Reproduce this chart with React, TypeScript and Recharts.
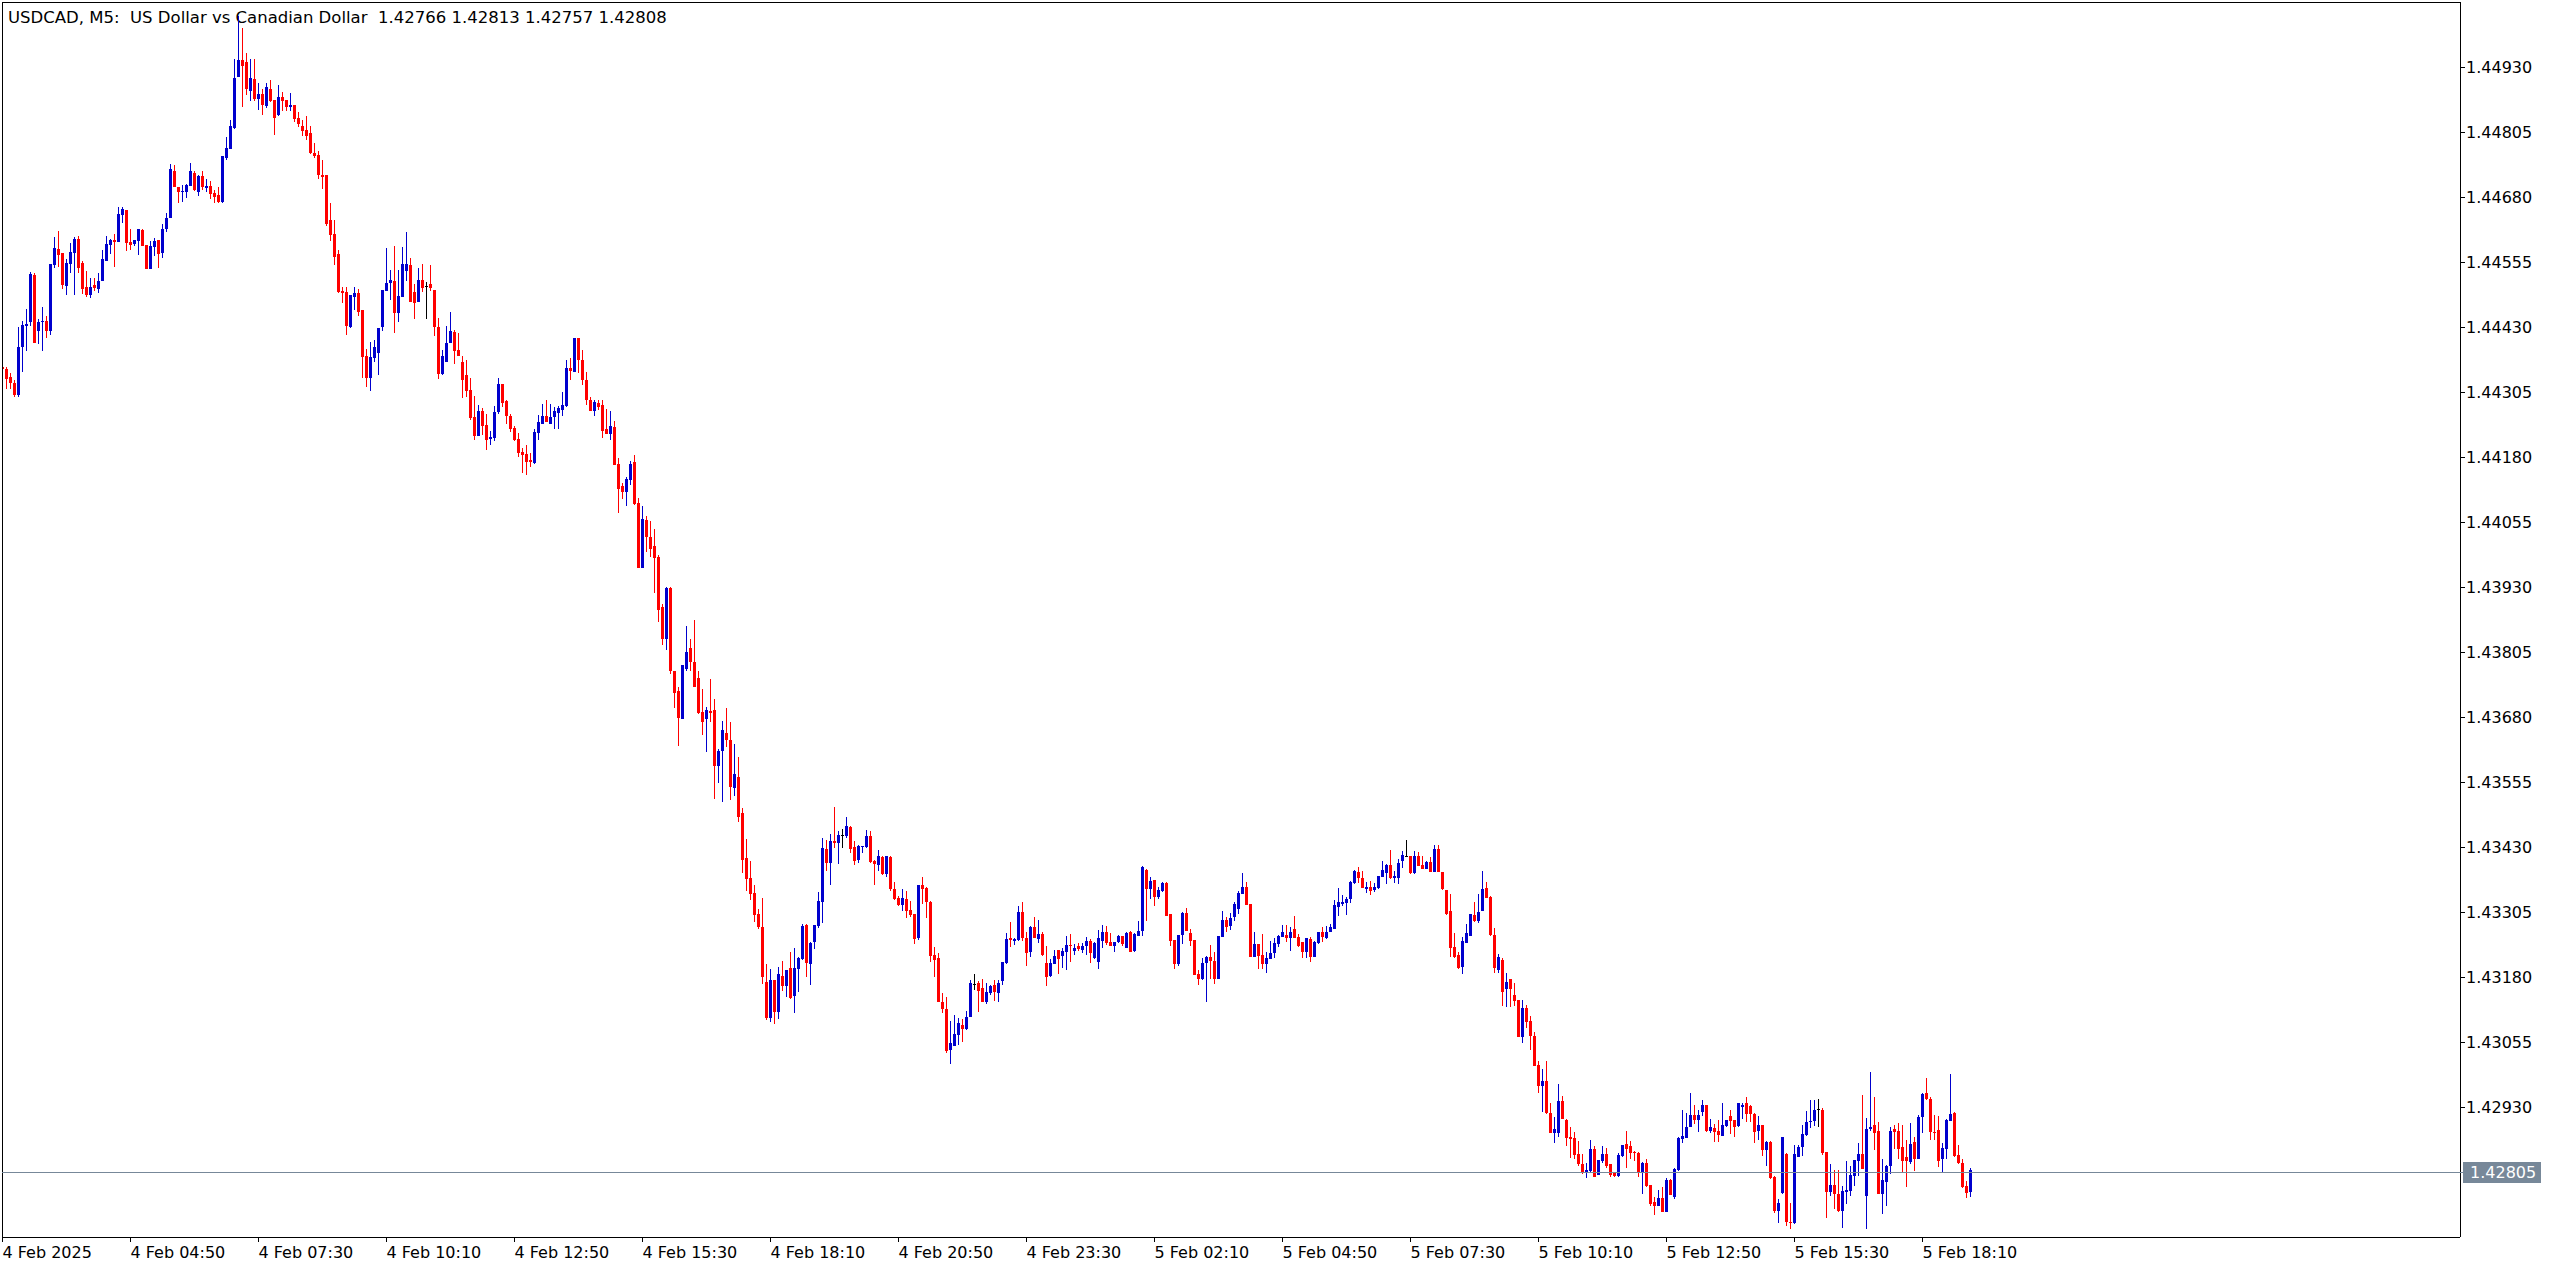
import { Bar, ComposedChart, ReferenceLine, XAxis, YAxis } from "recharts";

// USDCAD M5, 4 Feb 02:10 .. 5 Feb 19:10 (one entry per 5-minute bar).
const chartTitle =
  "USDCAD, M5:  US Dollar vs Canadian Dollar  1.42766 1.42813 1.42757 1.42808";

const firstBar = -1; // the left-most, half-hidden bar

const timeTickBars = [-1, 31, 63, 95, 127, 159, 191, 223, 255, 287, 319, 351, 383, 415, 447, 479];
const timeTickLabels = [
  "4 Feb 2025", "4 Feb 04:50", "4 Feb 07:30", "4 Feb 10:10", "4 Feb 12:50", "4 Feb 15:30",
  "4 Feb 18:10", "4 Feb 20:50", "4 Feb 23:30", "5 Feb 02:10", "5 Feb 04:50", "5 Feb 07:30",
  "5 Feb 10:10", "5 Feb 12:50", "5 Feb 15:30", "5 Feb 18:10",
];

const priceTicks = [
  1.42805, 1.4293, 1.43055, 1.4318, 1.43305, 1.4343, 1.43555, 1.4368, 1.43805, 1.4393,
  1.44055, 1.4418, 1.44305, 1.4443, 1.44555, 1.4468, 1.44805, 1.4493,
];
const bidPrice = 1.42805;

const opens = [
  1.44353, 1.44349, 1.44334, 1.44322, 1.44299, 1.44392, 1.44432, 1.4444, 1.4453, 1.44422,
  1.4444, 1.44442, 1.44422, 1.44549, 1.4458, 1.44573, 1.44509, 1.44551, 1.44573, 1.44599,
  1.44553, 1.44507, 1.44492, 1.44511, 1.44503, 1.44519, 1.44557, 1.44588, 1.44598, 1.44594,
  1.44646, 1.44655, 1.44594, 1.4459, 1.44596, 1.44617, 1.44588, 1.44542, 1.44584, 1.44598,
  1.44573, 1.44619, 1.4464, 1.4473, 1.44699, 1.4469, 1.4469, 1.44701, 1.44726, 1.4469,
  1.44721, 1.44697, 1.44701, 1.44688, 1.44684, 1.44671, 1.44755, 1.44773, 1.44813, 1.44911,
  1.44944, 1.4494, 1.44884, 1.44907, 1.44869, 1.44878, 1.44855, 1.44888, 1.44867, 1.44838,
  1.44873, 1.44867, 1.44853, 1.44857, 1.44832, 1.44817, 1.44809, 1.44803, 1.44765, 1.44761,
  1.44723, 1.44723, 1.44636, 1.44609, 1.44571, 1.44499, 1.44498, 1.4443, 1.44488, 1.44496,
  1.44463, 1.44374, 1.44332, 1.44371, 1.4438, 1.4443, 1.44499, 1.44515, 1.44519, 1.44457,
  1.44488, 1.44538, 1.44549, 1.44498, 1.44478, 1.44521, 1.44509, 1.44513, 1.44501, 1.4443,
  1.4434, 1.44363, 1.44399, 1.44421, 1.44386, 1.44363, 1.44338, 1.44309, 1.44257, 1.44221,
  1.44269, 1.44242, 1.44215, 1.44217, 1.44267, 1.4432, 1.44288, 1.44259, 1.44236, 1.44215,
  1.4419, 1.44186, 1.44174, 1.44169, 1.44226, 1.44244, 1.44259, 1.44244, 1.44257, 1.44265,
  1.44271, 1.44278, 1.44351, 1.44344, 1.44409, 1.44367, 1.44328, 1.4429, 1.44269, 1.44284,
  1.4428, 1.44234, 1.44224, 1.44238, 1.44167, 1.44124, 1.44113, 1.44136, 1.4417, 1.44092,
  1.43967, 1.44059, 1.44026, 1.44009, 1.43988, 1.43892, 1.4383, 1.43928, 1.43769, 1.4373,
  1.43676, 1.43772, 1.43813, 1.43786, 1.43755, 1.4369, 1.43676, 1.43692, 1.43694, 1.43586,
  1.43615, 1.43649, 1.43636, 1.43544, 1.43565, 1.43495, 1.43409, 1.4337, 1.43342, 1.43301,
  1.43276, 1.4317, 1.43101, 1.43174, 1.43113, 1.43182, 1.43163, 1.43197, 1.43143, 1.43195,
  1.43215, 1.4328, 1.43205, 1.43247, 1.43278, 1.43324, 1.43426, 1.43399, 1.43442, 1.43438,
  1.43453, 1.43451, 1.43468, 1.4343, 1.43405, 1.4343, 1.4343, 1.43451, 1.43403, 1.43395,
  1.43411, 1.43378, 1.43411, 1.43349, 1.43332, 1.43319, 1.4333, 1.43309, 1.43301, 1.43255,
  1.43357, 1.43351, 1.43324, 1.43222, 1.43217, 1.43132, 1.43119, 1.4304, 1.43048, 1.43069,
  1.43088, 1.4308, 1.43103, 1.43167, 1.43168, 1.43159, 1.43132, 1.43149, 1.43165, 1.43149,
  1.43172, 1.43207, 1.43255, 1.43249, 1.43251, 1.43305, 1.43255, 1.43228, 1.43276, 1.43253,
  1.43263, 1.43207, 1.43182, 1.43205, 1.43232, 1.4322, 1.43228, 1.43242, 1.4323, 1.4324,
  1.43232, 1.4324, 1.43249, 1.43217, 1.43209, 1.43249, 1.43267, 1.43247, 1.4324, 1.43247,
  1.43259, 1.43236, 1.43267, 1.4323, 1.43259, 1.43268, 1.43386, 1.43349, 1.43367, 1.43334,
  1.43345, 1.43361, 1.43301, 1.43251, 1.43205, 1.43261, 1.43303, 1.43265, 1.43251, 1.43186,
  1.43176, 1.43207, 1.43218, 1.43211, 1.43176, 1.43257, 1.4329, 1.43278, 1.43296, 1.43311,
  1.4334, 1.43353, 1.4332, 1.43218, 1.43244, 1.43222, 1.43205, 1.43215, 1.43226, 1.43244,
  1.43257, 1.43261, 1.43255, 1.43272, 1.43257, 1.43247, 1.43228, 1.43253, 1.43218, 1.43245,
  1.43267, 1.43255, 1.43267, 1.43272, 1.43315, 1.4332, 1.43322, 1.4333, 1.43361, 1.43382,
  1.4337, 1.43349, 1.43353, 1.43347, 1.43351, 1.43372, 1.4338, 1.43395, 1.4337, 1.4337,
  1.43403, 1.43413, 1.43413, 1.4338, 1.43413, 1.43395, 1.43388, 1.43401, 1.43382, 1.43426,
  1.43382, 1.43347, 1.43307, 1.43238, 1.43222, 1.43199, 1.43245, 1.43259, 1.43299, 1.43288,
  1.43307, 1.43351, 1.43334, 1.43261, 1.43193, 1.43213, 1.43157, 1.43176, 1.43145, 1.43136,
  1.43065, 1.4312, 1.43096, 1.43067, 1.43011, 1.4297, 1.4298, 1.42919, 1.4288, 1.4288,
  1.42942, 1.42905, 1.42872, 1.4287, 1.4284, 1.42821, 1.42803, 1.42807, 1.42849, 1.42799,
  1.42826, 1.4284, 1.42821, 1.42803, 1.42797, 1.42836, 1.42859, 1.42855, 1.42844, 1.42842,
  1.42805, 1.42823, 1.4278, 1.42747, 1.4274, 1.42755, 1.42728, 1.4279, 1.42757, 1.42809,
  1.42868, 1.4287, 1.42892, 1.42915, 1.42905, 1.4292, 1.42934, 1.42884, 1.4289, 1.42884,
  1.42874, 1.42893, 1.42913, 1.42905, 1.42893, 1.4293, 1.42938, 1.42932, 1.42917, 1.42884,
  1.42895, 1.42847, 1.42863, 1.42795, 1.4273, 1.42765, 1.4284, 1.42709, 1.42707, 1.42834,
  1.42853, 1.42876, 1.42901, 1.42903, 1.42926, 1.42924, 1.42844, 1.42767, 1.4278, 1.42763,
  1.4273, 1.42767, 1.42768, 1.42797, 1.42826, 1.4284, 1.42759, 1.42888, 1.42895, 1.42884,
  1.42763, 1.42786, 1.42817, 1.42888, 1.42884, 1.42853, 1.42834, 1.42824, 1.42863, 1.4283,
  1.42911, 1.42957, 1.42945, 1.42882, 1.42886, 1.4283, 1.42849, 1.42903, 1.42919, 1.42838,
  1.42823, 1.42778, 1.42766,
];

const highs = [
  1.44357, 1.44353, 1.44342, 1.44328, 1.4443, 1.44442, 1.44465, 1.44536, 1.44534, 1.44446,
  1.44469, 1.44451, 1.44551, 1.44603, 1.44615, 1.44573, 1.44561, 1.44592, 1.44603, 1.44605,
  1.44557, 1.44538, 1.44524, 1.44524, 1.44534, 1.44578, 1.44605, 1.44599, 1.44609, 1.44661,
  1.44661, 1.44655, 1.44619, 1.44598, 1.44619, 1.44619, 1.44588, 1.44596, 1.44601, 1.44598,
  1.44628, 1.44649, 1.44744, 1.44742, 1.44699, 1.44703, 1.44705, 1.44746, 1.4473, 1.44723,
  1.4473, 1.44715, 1.44711, 1.44694, 1.44699, 1.44759, 1.44796, 1.44828, 1.44946, 1.45028,
  1.45005, 1.44957, 1.44946, 1.44946, 1.44899, 1.44888, 1.44899, 1.44905, 1.44867, 1.44896,
  1.44882, 1.44867, 1.4488, 1.44857, 1.44844, 1.44828, 1.44836, 1.44817, 1.44784, 1.44769,
  1.44751, 1.44723, 1.44669, 1.44636, 1.44578, 1.44507, 1.44507, 1.44492, 1.44507, 1.44503,
  1.44463, 1.44388, 1.44401, 1.44405, 1.44428, 1.44501, 1.44582, 1.4454, 1.44586, 1.4454,
  1.44584, 1.44613, 1.44563, 1.44513, 1.44544, 1.44551, 1.44517, 1.44549, 1.44501, 1.44448,
  1.44386, 1.44432, 1.44459, 1.44424, 1.44419, 1.44374, 1.44367, 1.44332, 1.44298, 1.4428,
  1.44274, 1.44263, 1.4423, 1.44278, 1.44332, 1.4432, 1.4429, 1.44263, 1.4424, 1.44226,
  1.44197, 1.44203, 1.44188, 1.44234, 1.44261, 1.44282, 1.4429, 1.44282, 1.44276, 1.44278,
  1.44305, 1.44367, 1.44371, 1.44409, 1.44409, 1.44386, 1.44344, 1.44296, 1.4429, 1.4429,
  1.4429, 1.44273, 1.44269, 1.44249, 1.44178, 1.4413, 1.44142, 1.44172, 1.44184, 1.44101,
  1.44086, 1.44067, 1.44057, 1.44042, 1.43992, 1.43898, 1.4393, 1.4393, 1.43769, 1.43738,
  1.4378, 1.43855, 1.4383, 1.43867, 1.43769, 1.43734, 1.43699, 1.43753, 1.43715, 1.43619,
  1.43672, 1.43697, 1.4367, 1.43628, 1.43603, 1.43505, 1.43446, 1.43403, 1.43357, 1.43311,
  1.43332, 1.43205, 1.43195, 1.43174, 1.43199, 1.43211, 1.43194, 1.43228, 1.43236, 1.43218,
  1.43282, 1.43282, 1.43247, 1.4328, 1.43344, 1.43447, 1.43444, 1.43455, 1.43507, 1.43461,
  1.43465, 1.43488, 1.4347, 1.43442, 1.43434, 1.43432, 1.43463, 1.43461, 1.43405, 1.43424,
  1.43413, 1.43413, 1.43413, 1.43363, 1.43336, 1.43349, 1.43345, 1.43326, 1.43301, 1.43357,
  1.43372, 1.43353, 1.43326, 1.43238, 1.43226, 1.43149, 1.43142, 1.43096, 1.43107, 1.43101,
  1.43099, 1.43115, 1.43174, 1.43186, 1.43172, 1.43176, 1.43168, 1.43165, 1.43174, 1.43174,
  1.43209, 1.43265, 1.43286, 1.43255, 1.43317, 1.43324, 1.43267, 1.43278, 1.43296, 1.4329,
  1.43267, 1.4324, 1.43215, 1.43232, 1.43232, 1.43236, 1.43259, 1.43263, 1.43244, 1.43245,
  1.43245, 1.43257, 1.43253, 1.43247, 1.4327, 1.4328, 1.43278, 1.43265, 1.43247, 1.43261,
  1.43259, 1.43267, 1.43268, 1.43265, 1.43288, 1.43393, 1.43388, 1.43372, 1.43367, 1.43353,
  1.43363, 1.43363, 1.43301, 1.43251, 1.43261, 1.43305, 1.43313, 1.43272, 1.43251, 1.43194,
  1.43217, 1.4322, 1.43242, 1.43228, 1.43259, 1.43307, 1.43296, 1.43303, 1.43324, 1.43345,
  1.4338, 1.43363, 1.4332, 1.43267, 1.43244, 1.43263, 1.43228, 1.43249, 1.43255, 1.43261,
  1.4328, 1.4328, 1.43276, 1.43297, 1.43263, 1.43247, 1.43255, 1.43257, 1.43249, 1.43267,
  1.43276, 1.43278, 1.43282, 1.43328, 1.43351, 1.43338, 1.43334, 1.43365, 1.43386, 1.43392,
  1.43384, 1.43363, 1.43365, 1.43361, 1.43374, 1.43403, 1.43397, 1.43424, 1.43384, 1.43407,
  1.43422, 1.43444, 1.43413, 1.43422, 1.4342, 1.43413, 1.43403, 1.43411, 1.43434, 1.43434,
  1.43382, 1.43347, 1.4334, 1.43265, 1.43228, 1.43257, 1.43282, 1.43301, 1.43324, 1.4334,
  1.43384, 1.43363, 1.43336, 1.43274, 1.43224, 1.43217, 1.43188, 1.43176, 1.43168, 1.43136,
  1.43136, 1.43126, 1.43105, 1.43074, 1.43018, 1.43003, 1.43018, 1.42938, 1.42911, 1.42974,
  1.42951, 1.42907, 1.42892, 1.42882, 1.42865, 1.4284, 1.42823, 1.42867, 1.42855, 1.42828,
  1.42855, 1.42851, 1.42821, 1.42805, 1.42842, 1.42857, 1.42884, 1.42865, 1.42845, 1.42844,
  1.42824, 1.4283, 1.4278, 1.42757, 1.4277, 1.42776, 1.42793, 1.42792, 1.42813, 1.42872,
  1.42924, 1.42919, 1.42957, 1.42934, 1.42924, 1.42944, 1.42934, 1.42907, 1.42898, 1.42905,
  1.42938, 1.42905, 1.42924, 1.42905, 1.42938, 1.42938, 1.42949, 1.42934, 1.42919, 1.42913,
  1.42895, 1.42865, 1.42865, 1.42797, 1.42753, 1.42872, 1.42842, 1.42745, 1.42857, 1.42857,
  1.42895, 1.42922, 1.42944, 1.42944, 1.42945, 1.42928, 1.42844, 1.42821, 1.42809, 1.42809,
  1.42778, 1.42826, 1.42817, 1.42828, 1.42861, 1.42953, 1.42909, 1.42997, 1.42949, 1.42901,
  1.4283, 1.42818, 1.42892, 1.42895, 1.42899, 1.42895, 1.42867, 1.42899, 1.42872, 1.42915,
  1.42957, 1.42986, 1.42949, 1.42915, 1.42913, 1.42861, 1.42907, 1.42994, 1.4292, 1.42857,
  1.4283, 1.42788, 1.42813,
];

const lows = [
  1.44346, 1.44311, 1.44311, 1.44296, 1.44296, 1.44344, 1.44384, 1.44432, 1.44399, 1.44397,
  1.44384, 1.44409, 1.44415, 1.44544, 1.44546, 1.44503, 1.44492, 1.44534, 1.44492, 1.44534,
  1.44494, 1.44488, 1.44486, 1.44499, 1.44496, 1.44519, 1.44557, 1.44571, 1.44546, 1.44594,
  1.4463, 1.44576, 1.44578, 1.44586, 1.44569, 1.44586, 1.44542, 1.44542, 1.44567, 1.44544,
  1.44563, 1.44613, 1.4464, 1.44699, 1.44669, 1.44671, 1.44678, 1.44701, 1.44692, 1.44682,
  1.44694, 1.4469, 1.44676, 1.44669, 1.44669, 1.44669, 1.44751, 1.44773, 1.44811, 1.44911,
  1.44853, 1.44876, 1.44865, 1.44865, 1.44848, 1.44838, 1.44851, 1.44863, 1.44799, 1.44836,
  1.44846, 1.44846, 1.44846, 1.44824, 1.44815, 1.44798, 1.4479, 1.44763, 1.44755, 1.44715,
  1.44696, 1.44624, 1.44596, 1.44549, 1.44496, 1.44476, 1.44415, 1.44428, 1.44463, 1.44451,
  1.44332, 1.44315, 1.44307, 1.44363, 1.44338, 1.44422, 1.44499, 1.44482, 1.44419, 1.4444,
  1.44488, 1.44519, 1.44478, 1.44446, 1.44478, 1.44498, 1.44446, 1.44499, 1.44413, 1.4433,
  1.44338, 1.44363, 1.44399, 1.44359, 1.44374, 1.44294, 1.44296, 1.44251, 1.44213, 1.44221,
  1.44223, 1.44194, 1.44203, 1.44211, 1.44263, 1.44276, 1.44244, 1.44228, 1.44211, 1.4418,
  1.44149, 1.44145, 1.44161, 1.44167, 1.44213, 1.44244, 1.44247, 1.44244, 1.44234, 1.44234,
  1.44259, 1.44276, 1.44328, 1.44344, 1.44342, 1.44319, 1.4428, 1.44269, 1.44259, 1.44271,
  1.44217, 1.44224, 1.44213, 1.44165, 1.44072, 1.44099, 1.44086, 1.44126, 1.44088, 1.43967,
  1.43967, 1.43997, 1.43988, 1.43919, 1.43863, 1.43819, 1.43809, 1.43763, 1.43697, 1.43624,
  1.43676, 1.43769, 1.43769, 1.43738, 1.43686, 1.43646, 1.43613, 1.4367, 1.43522, 1.43553,
  1.43517, 1.43622, 1.4352, 1.43528, 1.43478, 1.4338, 1.43345, 1.43328, 1.43286, 1.43272,
  1.43167, 1.43097, 1.43093, 1.4309, 1.43099, 1.43153, 1.43142, 1.43138, 1.43111, 1.43151,
  1.43213, 1.4318, 1.43165, 1.43234, 1.43274, 1.43284, 1.43384, 1.43357, 1.43428, 1.43397,
  1.43428, 1.43447, 1.43418, 1.43395, 1.43399, 1.43418, 1.43428, 1.43399, 1.43357, 1.43384,
  1.43376, 1.43372, 1.43345, 1.43328, 1.43317, 1.43307, 1.43294, 1.43296, 1.43243, 1.43251,
  1.4332, 1.43294, 1.43209, 1.4318, 1.43132, 1.43111, 1.43034, 1.43013, 1.43048, 1.43049,
  1.43055, 1.43078, 1.43103, 1.43155, 1.43113, 1.43132, 1.43128, 1.43145, 1.43134, 1.43132,
  1.43165, 1.43205, 1.43238, 1.43242, 1.43249, 1.43249, 1.43201, 1.43218, 1.43255, 1.43245,
  1.4322, 1.43163, 1.4318, 1.43205, 1.43186, 1.43197, 1.43194, 1.43209, 1.43222, 1.4323,
  1.43226, 1.43222, 1.43207, 1.43215, 1.43195, 1.43236, 1.43242, 1.4324, 1.43228, 1.43245,
  1.4324, 1.43236, 1.43228, 1.43228, 1.43259, 1.43259, 1.43288, 1.4333, 1.43317, 1.4333,
  1.43344, 1.43297, 1.4324, 1.43195, 1.43201, 1.43244, 1.43268, 1.4324, 1.43184, 1.43165,
  1.43174, 1.43132, 1.43176, 1.43167, 1.43176, 1.43257, 1.43267, 1.4327, 1.43288, 1.43301,
  1.4334, 1.43319, 1.43218, 1.43218, 1.43195, 1.43195, 1.43188, 1.43215, 1.43217, 1.43238,
  1.43257, 1.43247, 1.4323, 1.43255, 1.43238, 1.43217, 1.43217, 1.43209, 1.43218, 1.43244,
  1.43247, 1.43253, 1.43267, 1.43272, 1.43297, 1.43317, 1.43299, 1.43322, 1.43359, 1.43361,
  1.43351, 1.43342, 1.43338, 1.43344, 1.43349, 1.43372, 1.43359, 1.43369, 1.43361, 1.43359,
  1.4339, 1.43413, 1.43378, 1.43378, 1.43393, 1.43388, 1.43388, 1.43382, 1.43382, 1.43382,
  1.43347, 1.43299, 1.43218, 1.43217, 1.43195, 1.43186, 1.43245, 1.43259, 1.43286, 1.43284,
  1.43307, 1.43332, 1.43259, 1.43188, 1.43188, 1.43124, 1.43122, 1.43122, 1.43124, 1.43065,
  1.43053, 1.43082, 1.4304, 1.43009, 1.42957, 1.4292, 1.42917, 1.4288, 1.42861, 1.42872,
  1.42907, 1.42855, 1.42832, 1.4283, 1.42817, 1.42801, 1.42793, 1.42803, 1.42795, 1.42799,
  1.42823, 1.42813, 1.42795, 1.42795, 1.42795, 1.42834, 1.42813, 1.4283, 1.42826, 1.42795,
  1.42763, 1.42776, 1.4274, 1.42722, 1.4274, 1.42728, 1.42728, 1.42761, 1.42753, 1.42807,
  1.42861, 1.4287, 1.42892, 1.42898, 1.42882, 1.42913, 1.42882, 1.4288, 1.42863, 1.42863,
  1.42874, 1.42892, 1.42878, 1.42872, 1.42892, 1.42907, 1.42901, 1.42901, 1.42861, 1.42867,
  1.42836, 1.42817, 1.42792, 1.42726, 1.42707, 1.42763, 1.42701, 1.42695, 1.42705, 1.42834,
  1.42836, 1.42874, 1.4289, 1.42893, 1.42892, 1.42838, 1.42717, 1.42759, 1.42734, 1.42728,
  1.42697, 1.42743, 1.42759, 1.42778, 1.42797, 1.42811, 1.42695, 1.42884, 1.42847, 1.42763,
  1.42724, 1.4274, 1.42801, 1.42849, 1.4283, 1.42805, 1.42776, 1.42821, 1.42807, 1.4283,
  1.4288, 1.42944, 1.42867, 1.42867, 1.42815, 1.42803, 1.4283, 1.42903, 1.42834, 1.42821,
  1.42774, 1.42755, 1.42757,
];

const closes = [
  1.44349, 1.4433, 1.44322, 1.44299, 1.44392, 1.44434, 1.44436, 1.44532, 1.44399, 1.4444,
  1.44442, 1.44422, 1.44551, 1.44582, 1.44569, 1.44511, 1.44553, 1.44574, 1.44599, 1.44544,
  1.44503, 1.44492, 1.44507, 1.44505, 1.44519, 1.44561, 1.4459, 1.44598, 1.44594, 1.44648,
  1.44657, 1.44592, 1.44588, 1.44598, 1.44619, 1.44586, 1.44542, 1.44586, 1.44596, 1.44571,
  1.44619, 1.4464, 1.44734, 1.44699, 1.4469, 1.44692, 1.44703, 1.4473, 1.44694, 1.44721,
  1.44699, 1.44701, 1.44686, 1.4468, 1.44671, 1.44759, 1.44774, 1.44817, 1.44909, 1.44944,
  1.44932, 1.44888, 1.44909, 1.44869, 1.44878, 1.44857, 1.44892, 1.44865, 1.44832, 1.44873,
  1.44865, 1.44853, 1.44857, 1.4483, 1.44821, 1.44807, 1.44798, 1.44765, 1.44759, 1.44723,
  1.44719, 1.44628, 1.44607, 1.44565, 1.44498, 1.44496, 1.44432, 1.44492, 1.44496, 1.44459,
  1.44373, 1.44332, 1.44373, 1.44392, 1.44428, 1.44501, 1.44515, 1.44521, 1.44457, 1.4449,
  1.44551, 1.44551, 1.44478, 1.44476, 1.44521, 1.44505, 1.44509, 1.44505, 1.4443, 1.4434,
  1.44374, 1.44399, 1.44422, 1.44384, 1.44374, 1.44328, 1.44307, 1.44255, 1.44221, 1.44269,
  1.4424, 1.44213, 1.44219, 1.44267, 1.4432, 1.44284, 1.44259, 1.44234, 1.44213, 1.44188,
  1.44184, 1.4417, 1.4417, 1.44228, 1.44247, 1.44259, 1.44247, 1.44257, 1.44269, 1.44274,
  1.4428, 1.44351, 1.44346, 1.44409, 1.44367, 1.44328, 1.4429, 1.44269, 1.44286, 1.44276,
  1.4423, 1.44224, 1.4424, 1.44165, 1.44118, 1.44113, 1.44138, 1.44167, 1.4409, 1.43967,
  1.44061, 1.44026, 1.44003, 1.43986, 1.43886, 1.4383, 1.43928, 1.43769, 1.43726, 1.43678,
  1.4378, 1.43805, 1.43786, 1.43738, 1.43688, 1.4367, 1.43694, 1.43688, 1.43586, 1.43615,
  1.43655, 1.43636, 1.43545, 1.4357, 1.43488, 1.43405, 1.43369, 1.4334, 1.43299, 1.43276,
  1.4318, 1.43101, 1.43174, 1.43113, 1.43186, 1.43163, 1.43194, 1.4314, 1.43197, 1.43217,
  1.43278, 1.43207, 1.43245, 1.4328, 1.43326, 1.43428, 1.43399, 1.43442, 1.43438, 1.43453,
  1.43453, 1.4347, 1.43426, 1.43403, 1.43432, 1.43432, 1.43451, 1.43401, 1.43397, 1.43413,
  1.43378, 1.43413, 1.43349, 1.4333, 1.43319, 1.43332, 1.43307, 1.43299, 1.43253, 1.43357,
  1.43349, 1.43324, 1.4322, 1.43213, 1.43132, 1.43119, 1.43038, 1.43053, 1.43071, 1.43092,
  1.4308, 1.43103, 1.43168, 1.43167, 1.43153, 1.43132, 1.43151, 1.43163, 1.43151, 1.43168,
  1.43209, 1.43253, 1.43251, 1.43253, 1.43305, 1.43255, 1.43226, 1.43276, 1.43255, 1.43263,
  1.43222, 1.4318, 1.43207, 1.4322, 1.43215, 1.4323, 1.43242, 1.4324, 1.43236, 1.43234,
  1.4324, 1.43249, 1.43226, 1.43245, 1.43255, 1.43267, 1.43245, 1.4324, 1.43247, 1.43259,
  1.43244, 1.43265, 1.43228, 1.43263, 1.43268, 1.43392, 1.43349, 1.43365, 1.43334, 1.43347,
  1.43361, 1.43297, 1.43249, 1.43205, 1.43261, 1.43303, 1.43268, 1.43249, 1.43184, 1.43176,
  1.43207, 1.43218, 1.43211, 1.43176, 1.43259, 1.4329, 1.43276, 1.43294, 1.4332, 1.43342,
  1.43353, 1.43319, 1.43218, 1.43244, 1.4322, 1.43205, 1.43217, 1.43226, 1.43245, 1.43259,
  1.43267, 1.43255, 1.43267, 1.43255, 1.4324, 1.43228, 1.43255, 1.43218, 1.43247, 1.43267,
  1.43257, 1.43267, 1.43276, 1.43319, 1.43324, 1.43324, 1.4333, 1.43363, 1.43384, 1.4337,
  1.43351, 1.43353, 1.43345, 1.43353, 1.43374, 1.43386, 1.43395, 1.4337, 1.43374, 1.43399,
  1.43415, 1.43413, 1.4338, 1.43413, 1.43393, 1.43388, 1.43401, 1.43382, 1.43426, 1.43382,
  1.43349, 1.43301, 1.43236, 1.43218, 1.43197, 1.43249, 1.43265, 1.43301, 1.43288, 1.43305,
  1.43349, 1.43332, 1.43261, 1.43197, 1.43218, 1.43151, 1.4317, 1.43157, 1.43134, 1.43065,
  1.4312, 1.43093, 1.43067, 1.43009, 1.4297, 1.4298, 1.42919, 1.4288, 1.42888, 1.42942,
  1.42907, 1.4287, 1.42868, 1.42838, 1.42821, 1.42803, 1.42809, 1.42849, 1.42795, 1.42828,
  1.4284, 1.42817, 1.42799, 1.42797, 1.42838, 1.42857, 1.42849, 1.42842, 1.42842, 1.42805,
  1.42823, 1.42778, 1.42743, 1.4274, 1.42755, 1.42728, 1.4279, 1.42761, 1.42811, 1.4287,
  1.42874, 1.42892, 1.42915, 1.42905, 1.42915, 1.42934, 1.42884, 1.42892, 1.42882, 1.42876,
  1.42895, 1.42905, 1.42903, 1.42892, 1.42938, 1.42934, 1.42917, 1.42917, 1.42882, 1.42895,
  1.42847, 1.42863, 1.42793, 1.4273, 1.42745, 1.42872, 1.42709, 1.42707, 1.4284, 1.42853,
  1.42878, 1.42901, 1.42903, 1.42924, 1.42926, 1.42842, 1.42767, 1.4278, 1.42763, 1.4273,
  1.42768, 1.4277, 1.42799, 1.42828, 1.4284, 1.42811, 1.42888, 1.42892, 1.4288, 1.42763,
  1.4279, 1.42817, 1.42884, 1.42882, 1.42849, 1.42826, 1.42826, 1.42859, 1.4283, 1.42911,
  1.42955, 1.42945, 1.42882, 1.4288, 1.42826, 1.42851, 1.42905, 1.42917, 1.42836, 1.42823,
  1.42776, 1.42765, 1.42808,
];

const BULL = "#0000cd";
const BEAR = "#ff0000";
const DOJI = "#000000";
const FONT = "DejaVu Sans, Verdana, sans-serif";

const count = Math.min(opens.length, highs.length, lows.length, closes.length);
const rows = opens.slice(0, count).map((open, k) => {
  const close = closes[k];
  const high = Math.max(highs[k], open, close);
  const low = Math.min(lows[k], open, close);
  return { bar: k + firstBar, open, high, low, close, range: [low, high] };
});

function Candle(props: any) {
  const { x, y, width, height } = props;
  const d = props.payload ?? props;
  if (x == null || y == null || d == null) return null;
  const cx = x + width / 2;
  const span = d.high - d.low;
  const at = (p: number) => (span > 0 ? y + ((d.high - p) / span) * height : y);
  const yo = at(d.open);
  const yc = at(d.close);
  const color = d.close > d.open ? BULL : d.close < d.open ? BEAR : DOJI;
  return (
    <g>
      <rect x={cx - 0.5} y={y} width={1} height={Math.max(1, height)} fill={color} />
      <rect
        x={cx - 1.5}
        y={Math.min(yo, yc)}
        width={3}
        height={Math.max(1, Math.abs(yc - yo))}
        fill={color}
      />
    </g>
  );
}

function TimeTick(props: any) {
  const { x, y, payload } = props;
  const idx = timeTickBars.indexOf(payload.value);
  return (
    <text x={x} y={y} dy="0.71em" textAnchor="start" fill="#000" fontFamily={FONT} fontSize={16}>
      {idx >= 0 ? timeTickLabels[idx] : ""}
    </text>
  );
}

function PriceTick(props: any) {
  const { x, y, payload } = props;
  const label = Number(payload.value).toFixed(5);
  if (payload.value === bidPrice) {
    return (
      <g>
        <line x1={x - 6} x2={x - 3} y1={y} y2={y} stroke="#778899" />
        <rect x={x - 3} y={y - 10} width={78} height={21} fill="#778899" />
        <text x={x + 4} y={y} dy="0.36em" textAnchor="start" fill="#fff" fontFamily={FONT} fontSize={16}>
          {label}
        </text>
      </g>
    );
  }
  return (
    <text x={x} y={y} dy="0.36em" textAnchor="start" fill="#000" fontFamily={FONT} fontSize={16}>
      {label}
    </text>
  );
}

export default function App() {
  return (
    <div
      style={{
        position: "absolute",
        left: 0,
        top: 0,
        width: 2556,
        height: 1270,
        background: "#fff",
        shapeRendering: "crispEdges",
      } as any}
    >
      <svg width={2556} height={40} style={{ position: "absolute", left: 0, top: 0 }}>
        <text x={8} y={23} fill="#000" fontFamily={FONT} fontSize={16.5} style={{ whiteSpace: "pre" }}>
          {chartTitle}
        </text>
      </svg>
      <div style={{ position: "absolute", left: 0, top: 0 }}>
        <ComposedChart
          width={2556}
          height={1270}
          data={rows}
          margin={{ top: 2, right: 0, bottom: 0, left: 2 }}
        >
          <XAxis
            type="number"
            dataKey="bar"
            domain={[-1.125, 613.375]}
            allowDataOverflow
            ticks={timeTickBars}
            interval={0}
            height={33}
            tickSize={5}
            tickMargin={5}
            axisLine={{ stroke: "#000" }}
            tickLine={{ stroke: "#000" }}
            tick={<TimeTick />}
          />
          <YAxis
            orientation="right"
            type="number"
            domain={[1.4268, 1.45055]}
            allowDataOverflow
            ticks={priceTicks}
            interval={0}
            width={96}
            tickSize={5}
            tickMargin={1}
            axisLine={{ stroke: "#000" }}
            tickLine={{ stroke: "#000" }}
            tick={<PriceTick />}
          />
          <ReferenceLine y={1.45055} stroke="#000" ifOverflow="visible" />
          <ReferenceLine x={-1.125} stroke="#000" ifOverflow="visible" />
          <ReferenceLine y={bidPrice} stroke="#778899" ifOverflow="visible" />
          <Bar dataKey="range" barSize={3} isAnimationActive={false} shape={<Candle />} />
        </ComposedChart>
      </div>
    </div>
  );
}
